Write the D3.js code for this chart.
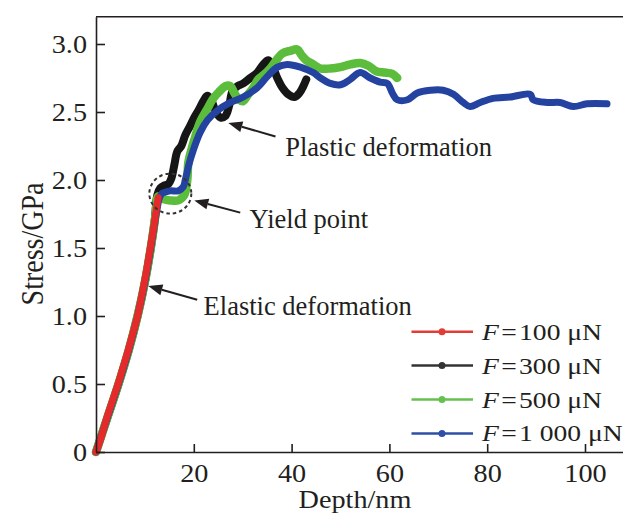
<!DOCTYPE html>
<html><head><meta charset="utf-8">
<script src="https://cdn.jsdelivr.net/npm/d3@7"></script>
<style>
body{margin:0;background:#fff}
svg{display:block}
text{font-family:"Liberation Serif","Times New Roman",serif;fill:#231f20;font-size:25px}
</style>
</head><body>
<svg id="chart" width="623" height="514"></svg>
<script>
// ---------------- data ----------------
const depth100 = [0, 1.0, 2.2, 3.4, 4.6, 5.6, 6.6, 7.6, 8.5, 9.2, 9.9, 10.5, 11.1, 11.7, 12.2, 12.7];
const stress100 = [0, 0.10, 0.25, 0.38, 0.51, 0.63, 0.75, 0.88, 1.00, 1.12, 1.25, 1.37, 1.50, 1.63, 1.75, 1.87];

const depth300 = [0, 2.3, 4.6, 6.7, 8.5, 10.0, 11.2, 12.0, 12.54, 13.15, 13.97, 14.79, 15.40, 16.01, 16.63, 17.44, 18.26, 19.28, 20.10, 20.92, 21.94, 22.76, 23.58, 24.39, 25.42, 26.44, 27.26, 27.87, 28.90, 30.12, 31.55, 32.99, 34.21, 35.23, 36.05, 37.07, 38.1, 39.3, 40.6, 41.6, 42.4, 43.0];
const stress300 = [0, 0.25, 0.5, 0.75, 1.0, 1.25, 1.5, 1.7, 1.89, 1.94, 1.96, 1.97, 2.01, 2.11, 2.21, 2.25, 2.33, 2.40, 2.46, 2.51, 2.58, 2.62, 2.59, 2.51, 2.46, 2.47, 2.55, 2.65, 2.69, 2.71, 2.75, 2.79, 2.85, 2.88, 2.84, 2.75, 2.68, 2.63, 2.61, 2.64, 2.69, 2.74];

const depth500 = [0, 2.3, 4.6, 6.7, 8.5, 10.0, 11.2, 12.2, 12.74, 13.76, 15.19, 16.83, 18.06, 18.67, 18.88, 19.49, 20.31, 21.33, 22.56, 23.99, 25.21, 26.44, 27.46, 28.28, 29.30, 30.12, 30.94, 32.17, 33.19, 34.21, 35.64, 36.87, 38.10, 39.73, 41.17, 41.99, 43.01, 44.44, 45.87, 47.92, 49.96, 52.01, 54.06, 55.7, 57.3, 59.1, 60.6, 61.6];
const stress500 = [0, 0.25, 0.5, 0.75, 1.0, 1.25, 1.5, 1.75, 1.88, 1.86, 1.85, 1.85, 1.89, 2.00, 2.13, 2.22, 2.32, 2.43, 2.51, 2.60, 2.65, 2.69, 2.69, 2.64, 2.59, 2.58, 2.62, 2.68, 2.74, 2.77, 2.82, 2.88, 2.93, 2.95, 2.96, 2.92, 2.88, 2.85, 2.82, 2.82, 2.83, 2.85, 2.86, 2.84, 2.80, 2.79, 2.78, 2.75];

const depth1000 = [0, 2.3, 4.6, 6.7, 8.5, 10.0, 11.2, 12.3, 13.0, 13.5, 15.2, 16.8, 17.85, 18.26, 18.9, 19.9, 21.3, 22.8, 24.8, 27.5, 30.1, 33.0, 35.0, 37.1, 39.1, 41.8, 44.4, 45.9, 47.9, 50.0, 52.0, 54.0, 56.1, 58.1, 59.6, 60.6, 61.6, 63.7, 65.7, 68.4, 71.0, 73.1, 75.1, 76.5, 78.6, 81.2, 84.7, 88.8, 89.4, 92.3, 94.9, 97.6, 100.4, 104.5];
const stress1000 = [0, 0.25, 0.5, 0.75, 1.0, 1.25, 1.5, 1.75, 1.87, 1.90, 1.92, 1.92, 1.95, 2.00, 2.10, 2.22, 2.35, 2.44, 2.51, 2.57, 2.61, 2.68, 2.76, 2.83, 2.85, 2.83, 2.79, 2.75, 2.71, 2.70, 2.74, 2.79, 2.75, 2.72, 2.71, 2.64, 2.59, 2.59, 2.64, 2.66, 2.66, 2.63, 2.57, 2.54, 2.57, 2.60, 2.61, 2.63, 2.59, 2.57, 2.57, 2.54, 2.56, 2.56];

const forceLabels = ["100", "300", "500", "1 000"];
const xTicks = [20, 40, 60, 80, 100];
const yTicks = [0, 0.5, 1.0, 1.5, 2.0, 2.5, 3.0];
const xLabel = "Depth/nm";
const yLabel = "Stress/GPa";

// annotations: text, arrow tip (depth, stress), arrow tail, text start
const annoText = ["Plastic deformation", "Yield point", "Elastic deformation"];
const annoTip = [[27.06, 2.42], [20.1, 1.85], [10.7, 1.22]];
const annoTail = [[36.7, 2.32], [29.5, 1.76], [20.7, 1.12]];
const annoPos = [[38.7, 2.18], [31.4, 1.645], [22.0, 1.005]];
const yieldCenter = [15.2, 1.90];

// ---------------- drawing ----------------
const svg = d3.select("#chart");
const x = d3.scaleLinear().domain([0, 110]).range([96, 96 + 110 * 4.89]);
const y = d3.scaleLinear().domain([0, 3.2]).range([452, 16.8]);
const ink = "#231f20";

function stretchText(sel, sx, extra) {
  sel.each(function () {
    const t = d3.select(this);
    const tx = +t.attr("x") || 0, ty = +t.attr("y") || 0;
    t.attr("x", 0).attr("y", 0)
     .attr("transform", `translate(${tx},${ty}) scale(${sx},1)` + (extra || ""));
  });
}

// series
const series = [
  {d: depth300, s: stress300, color: "#161616", w: 8},
  {d: depth500, s: stress500, color: "#5cbc3c", w: 8.5},
  {d: depth1000, s: stress1000, color: "#2443a0", w: 7},
  {d: depth100, s: stress100, color: "#e42a2a", w: 7}
];
const line = d3.line().x(p => x(p[0])).y(p => y(p[1])).curve(d3.curveCatmullRom.alpha(0.5));
svg.append("g").selectAll("path").data(series).join("path")
  .attr("d", sr => line(sr.d.map((v, i) => [v, sr.s[i]])))
  .attr("fill", "none").attr("stroke", sr => sr.color).attr("stroke-width", sr => sr.w)
  .attr("stroke-linejoin", "round").attr("stroke-linecap", "round");

// axes
const yAxis = d3.axisLeft(y).tickValues(yTicks)
  .tickFormat(d => d === 0 ? "0" : d3.format(".1f")(d))
  .tickSizeInner(-9).tickSizeOuter(0).tickPadding(9);
const gy = svg.append("g").attr("transform", `translate(${x(0)},0)`).call(yAxis);
const xAxis = d3.axisBottom(x).tickValues(xTicks).tickSizeInner(-8).tickSizeOuter(0).tickPadding(12);
const gx = svg.append("g").attr("transform", `translate(0,${y(0)})`).call(xAxis);
[gy, gx].forEach(g => {
  g.selectAll("path,line").attr("stroke", ink).attr("stroke-width", 1.6);
  g.selectAll("text").attr("font-size", 25).attr("font-family", null).attr("fill", ink);
  stretchText(g.selectAll("text"), 1.13);
});
// top frame line
svg.append("line").attr("x1", x(0)).attr("x2", x(110)).attr("y1", y(3.2)).attr("y2", y(3.2))
  .attr("stroke", ink).attr("stroke-width", 1.6);

// axis titles
svg.append("text").attr("x", 355).attr("y", 508).attr("text-anchor", "middle").text(xLabel)
  .call(stretchText, 1.13);
svg.append("text").attr("x", 43).attr("y", 244).attr("text-anchor", "middle")
  .style("font-size", "28px").text(yLabel)
  .call(stretchText, 1.1, " rotate(-90)");

// yield circle
svg.append("ellipse").attr("cx", x(yieldCenter[0])).attr("cy", y(yieldCenter[1]))
  .attr("rx", 21).attr("ry", 20).attr("fill", "none").attr("stroke", "#333")
  .attr("stroke-width", 2).attr("stroke-dasharray", "3.5,3");

// annotations
annoText.forEach((t, i) => {
  const tx = x(annoTip[i][0]), ty = y(annoTip[i][1]);
  const sx = x(annoTail[i][0]), sy = y(annoTail[i][1]);
  const ang = Math.atan2(ty - sy, tx - sx);
  const L = 14, H = 5.5;
  const bx = tx - L * Math.cos(ang), by = ty - L * Math.sin(ang);
  svg.append("line").attr("x1", sx).attr("y1", sy).attr("x2", bx).attr("y2", by)
    .attr("stroke", ink).attr("stroke-width", 2);
  const px = -Math.sin(ang), py = Math.cos(ang);
  svg.append("polygon")
    .attr("points", [[tx, ty], [bx + H * px, by + H * py], [bx - H * px, by - H * py]].map(p => p.join(",")).join(" "))
    .attr("fill", ink);
  svg.append("text").attr("x", x(annoPos[i][0])).attr("y", y(annoPos[i][1]))
    .style("font-size", "26.5px").text(t);
});

// legend
const legColors = ["#e23c36", "#333333", "#66c050", "#2e4ea8"];
const leg = svg.append("g");
forceLabels.forEach((lab, i) => {
  const ly = 331.7 + i * 33.9;
  leg.append("line").attr("x1", 411.5).attr("x2", 473).attr("y1", ly).attr("y2", ly)
    .attr("stroke", legColors[i]).attr("stroke-width", 2.5);
  leg.append("circle").attr("cx", 442).attr("cy", ly).attr("r", 3.5).attr("fill", legColors[i]);
  const t = leg.append("text").attr("x", 482).attr("y", ly + 8).style("font-size", "24px");
  t.append("tspan").attr("font-style", "italic").text("F");
  t.append("tspan").text("\u200A=\u200A" + lab + " μN");
  t.call(stretchText, 1.15);
});
</script>
</body></html>
